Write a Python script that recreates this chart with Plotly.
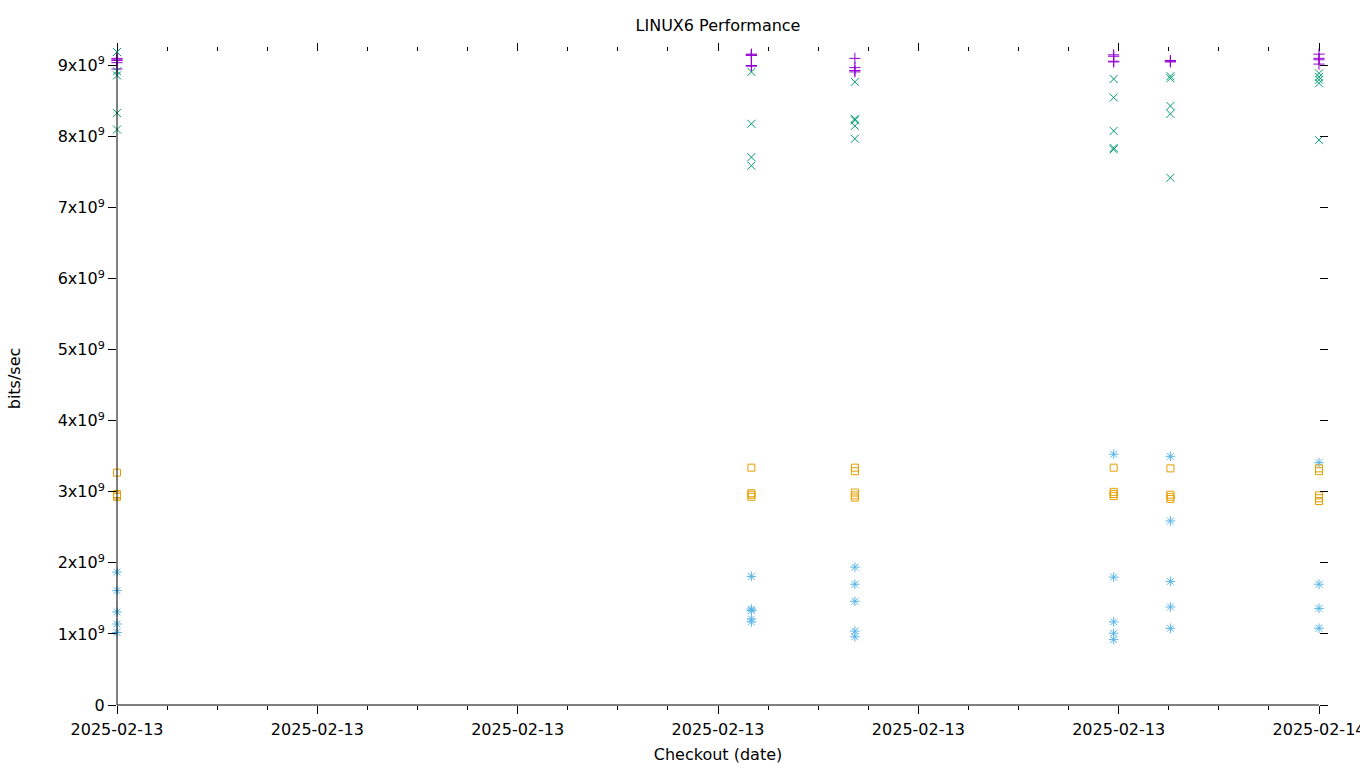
import plotly.graph_objects as go

# Run (checkout) times
run_times = ["2025-02-13 12:00", "2025-02-13 18:20", "2025-02-13 19:22",
             "2025-02-13 21:57", "2025-02-13 22:31", "2025-02-14 00:00"]

# Values per run, in units of 1e9 bits/sec
series_plus = [
    [9.10, 9.08, 9.07, 9.04, 8.95],
    [9.16, 9.15, 9.14, 9.00, 8.99],
    [9.10, 8.97, 8.93, 8.91],
    [9.15, 9.13, 9.06, 9.05],
    [9.07, 9.06, 9.05],
    [9.16, 9.10, 9.08, 9.02],
]
series_x = [
    [9.19, 8.92, 8.86, 8.33, 8.10],
    [8.91, 8.18, 7.71, 7.59],
    [8.77, 8.25, 8.23, 8.15, 7.97],
    [8.81, 8.55, 8.08, 7.84, 7.82],
    [8.85, 8.82, 8.43, 8.32, 7.42],
    [8.89, 8.84, 8.80, 8.75, 7.95],
]
series_star = [
    [1.87, 1.61, 1.31, 1.14, 1.02],
    [1.81, 1.35, 1.33, 1.21, 1.17],
    [1.94, 1.70, 1.46, 1.04, 0.96],
    [3.53, 1.80, 1.17, 1.01, 0.92],
    [3.50, 2.59, 1.74, 1.38, 1.08],
    [3.41, 1.70, 1.36, 1.08],
]
series_box = [
    [3.27, 2.97, 2.95, 2.93],
    [3.34, 2.98, 2.96, 2.93],
    [3.34, 3.29, 2.99, 2.95, 2.92],
    [3.34, 3.00, 2.97, 2.94],
    [3.33, 2.96, 2.93, 2.90],
    [3.33, 3.29, 2.95, 2.91, 2.87],
]

y_tick_vals = [0, 1, 2, 3, 4, 5, 6, 7, 8, 9]
y_tick_text = ["0"] + [f"{v}x10<sup>9</sup>" for v in y_tick_vals[1:]]
SCALE = 1e9
Y_MAX = 9.19


def flatten(series):
    xs, ys = [], []
    for t, vals in zip(run_times, series):
        for v in vals:
            xs.append(t)
            ys.append(v * SCALE)
    return xs, ys


styles = [
    (series_plus, "#9400D3", "cross-thin-open", 8),
    (series_x, "#009E73", "x-thin-open", 8),
    (series_star, "#56B4E9", "asterisk-open", 8),
    (series_box, "#E69F00", "square-open", 7),
]

fig = go.Figure()
for series, color, symbol, size in styles:
    xs, ys = flatten(series)
    fig.add_trace(go.Scatter(
        x=xs, y=ys, mode="markers", cliponaxis=False,
        marker=dict(symbol=symbol, size=size, color=color,
                    line=dict(color=color, width=1)),
        showlegend=False,
    ))

FONT = "DejaVu Sans"
fig.update_layout(
    width=1360, height=768,
    margin=dict(l=117, r=41, t=52, b=63),
    paper_bgcolor="white", plot_bgcolor="white",
    font=dict(family=FONT, size=16, color="black"),
    title=dict(text="LINUX6 Performance", x=0.5, xref="paper",
               y=1 - 25 / 768, yref="container", yanchor="middle",
               xanchor="center", font=dict(size=16, family=FONT)),
    xaxis=dict(
        type="date",
        range=[run_times[0], run_times[-1]],
        tick0=run_times[0], dtick=2 * 3600 * 1000,
        tickformat="%Y-%m-%d",
        ticklabeloverflow="allow",
        ticklabelstandoff=2,
        tickfont=dict(size=16, family=FONT),
        ticks="outside", ticklen=8, tickwidth=1, tickcolor="black",
        minor=dict(dtick=30 * 60 * 1000, ticks="outside", ticklen=4,
                   tickcolor="black", tickwidth=1, showgrid=False),
        showline=False, mirror="ticks", showgrid=False, zeroline=False,
        title=dict(text="Checkout (date)", standoff=10,
                   font=dict(size=16, family=FONT)),
        automargin=False,
    ),
    yaxis=dict(
        range=[0, Y_MAX * SCALE],
        tickvals=[v * SCALE for v in y_tick_vals], ticktext=y_tick_text,
        tickfont=dict(size=16, family=FONT),
        ticks="outside", ticklen=8, tickwidth=1, tickcolor="black",
        showline=False, mirror="ticks", showgrid=False, zeroline=False,
        title=dict(text="bits/sec", standoff=33,
                   font=dict(size=16, family=FONT)),
        automargin=False,
    ),
    shapes=[
        dict(type="line", xref="paper", yref="paper", x0=0, y0=0, x1=1, y1=0,
             line=dict(color="black", width=1)),
        dict(type="line", xref="paper", yref="paper", x0=0, y0=0, x1=0, y1=1,
             line=dict(color="black", width=1)),
    ],
)

fig.write_html("out.html")
